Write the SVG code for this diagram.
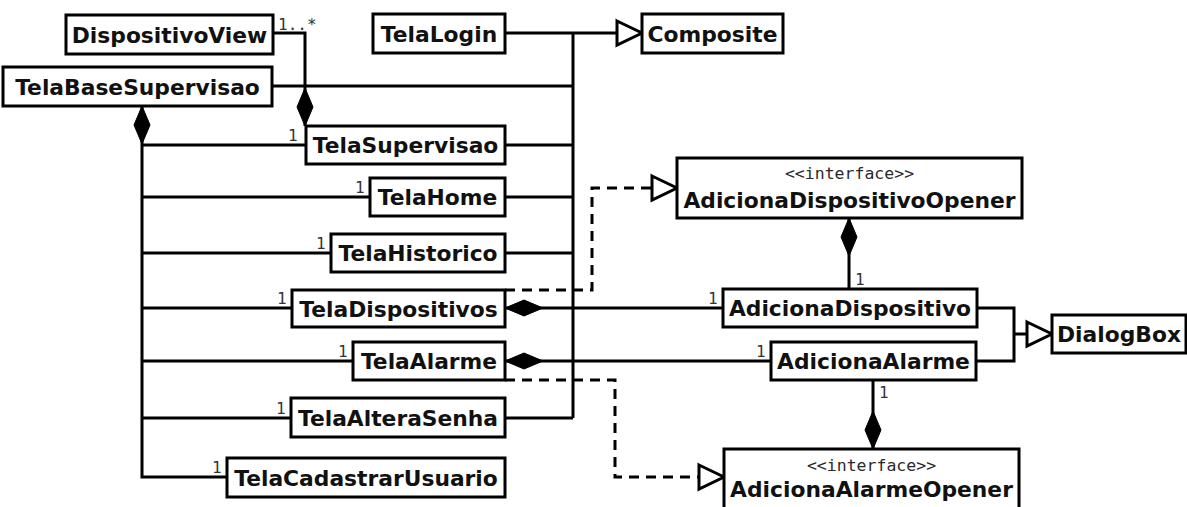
<svg xmlns="http://www.w3.org/2000/svg" width="1187" height="507" viewBox="0 0 1187 507">
  <style>
    .box { fill: #ffffff; stroke: #000000; stroke-width: 3; }
    .name { font-family: "DejaVu Sans", "Liberation Sans", sans-serif; font-weight: bold; font-size: 21.8px; fill: #111111; text-anchor: middle; }
    .stereo { font-family: "DejaVu Sans Mono", "Liberation Mono", monospace; font-size: 16.5px; fill: #2a2a2a; text-anchor: middle; }
    .mult { font-family: "DejaVu Sans Mono", "Liberation Mono", monospace; font-size: 16px; fill: #333333; }
    .line { fill: none; stroke: #000000; stroke-width: 3; }
    .dash { fill: none; stroke: #000000; stroke-width: 3; stroke-dasharray: 10 7; }
    .comp { marker-start: url(#diamond); }
    .gen { marker-end: url(#triangle); }
  </style>
  <defs>
    <!-- hollow triangle: generalization / realization head -->
    <marker id="triangle" markerUnits="userSpaceOnUse" markerWidth="30" markerHeight="28" refX="25" refY="12" orient="auto" overflow="visible">
      <path d="M0,0 L25,12 L0,24 Z" fill="#ffffff" stroke="#000000" stroke-width="3" stroke-dasharray="none" stroke-linejoin="miter"/>
    </marker>
    <!-- filled diamond: composition, placed at the whole end -->
    <marker id="diamond" markerUnits="userSpaceOnUse" markerWidth="40" markerHeight="18" refX="0" refY="8" orient="auto" overflow="visible">
      <path d="M0,8 L19,0 L38,8 L19,16 Z" fill="#000000" stroke="#000000" stroke-width="1"/>
    </marker>
  </defs>

  <rect width="1187" height="507" fill="#ffffff"/>

  <g id="connectors">
    <!-- generalizations towards Composite -->
    <path class="line gen" d="M505,33 H642"/>
    <path class="line" d="M573,33 V418"/>
    <path class="line" d="M272,86 H573"/>
    <path class="line" d="M505,145 H573"/>
    <path class="line" d="M505,197 H573"/>
    <path class="line" d="M505,253 H573"/>
    <path class="line" d="M505,418 H573"/>

    <!-- TelaSupervisao owns DispositivoView -->
    <path class="line comp" d="M305,126 V33 H273"/>

    <!-- TelaBaseSupervisao composition tree -->
    <path class="line comp" d="M142,106 V477 H227"/>
    <path class="line" d="M142,145 H306"/>
    <path class="line" d="M142,197 H370"/>
    <path class="line" d="M142,253 H331"/>
    <path class="line" d="M142,308 H292"/>
    <path class="line" d="M142,361 H353"/>
    <path class="line" d="M142,418 H291"/>

    <!-- screens owning dialogs -->
    <path class="line comp" d="M505,308 H723"/>
    <path class="line comp" d="M505,361 H771"/>

    <!-- dialogs owned by opener interfaces -->
    <path class="line comp" d="M849,218 V289"/>
    <path class="line comp" d="M873,449 V380"/>

    <!-- dialogs generalize DialogBox -->
    <path class="line" d="M977,308 H1014 V361 H976"/>
    <path class="line gen" d="M1014,334 H1052"/>

    <!-- interface realizations -->
    <path class="dash gen" d="M505,290 H592 V188 H677"/>
    <path class="dash gen" d="M505,380 H615 V477 H724"/>

    <!-- multiplicities -->
    <text class="mult" x="278" y="30">1..*</text>
    <text class="mult" x="288" y="141">1</text>
    <text class="mult" x="355" y="193">1</text>
    <text class="mult" x="316" y="249">1</text>
    <text class="mult" x="277" y="304">1</text>
    <text class="mult" x="338" y="357">1</text>
    <text class="mult" x="276" y="414">1</text>
    <text class="mult" x="212" y="473">1</text>
    <text class="mult" x="708" y="304">1</text>
    <text class="mult" x="756" y="357">1</text>
    <text class="mult" x="855" y="285">1</text>
    <text class="mult" x="879" y="398">1</text>
  </g>

  <g id="DispositivoView">
    <rect class="box" x="66" y="15" width="207" height="39"/>
    <text class="name" x="169.5" y="42.5">DispositivoView</text>
  </g>
  <g id="TelaBaseSupervisao">
    <rect class="box" x="3" y="67" width="269" height="39"/>
    <text class="name" x="137.5" y="94.5">TelaBaseSupervisao</text>
  </g>
  <g id="TelaLogin">
    <rect class="box" x="373" y="14" width="132" height="39"/>
    <text class="name" x="439" y="41.5">TelaLogin</text>
  </g>
  <g id="Composite">
    <rect class="box" x="642" y="14" width="141" height="39"/>
    <text class="name" x="712.5" y="41.5">Composite</text>
  </g>
  <g id="TelaSupervisao">
    <rect class="box" x="306" y="126" width="199" height="38"/>
    <text class="name" x="405.5" y="153">TelaSupervisao</text>
  </g>
  <g id="TelaHome">
    <rect class="box" x="370" y="178" width="135" height="38"/>
    <text class="name" x="437.5" y="205">TelaHome</text>
  </g>
  <g id="TelaHistorico">
    <rect class="box" x="331" y="234" width="174" height="38"/>
    <text class="name" x="418" y="261">TelaHistorico</text>
  </g>
  <g id="TelaDispositivos">
    <rect class="box" x="292" y="290" width="213" height="37"/>
    <text class="name" x="398.5" y="316.5">TelaDispositivos</text>
  </g>
  <g id="TelaAlarme">
    <rect class="box" x="353" y="342" width="152" height="38"/>
    <text class="name" x="429" y="369">TelaAlarme</text>
  </g>
  <g id="TelaAlteraSenha">
    <rect class="box" x="291" y="398" width="214" height="39"/>
    <text class="name" x="398" y="425.5">TelaAlteraSenha</text>
  </g>
  <g id="TelaCadastrarUsuario">
    <rect class="box" x="227" y="458" width="278" height="39"/>
    <text class="name" x="366" y="485.5">TelaCadastrarUsuario</text>
  </g>
  <g id="AdicionaDispositivoOpener">
    <rect class="box" x="677" y="158" width="345" height="60"/>
    <text class="stereo" x="849.5" y="179">&lt;&lt;interface&gt;&gt;</text>
    <text class="name" x="849.5" y="208">AdicionaDispositivoOpener</text>
  </g>
  <g id="AdicionaDispositivo">
    <rect class="box" x="723" y="289" width="254" height="38"/>
    <text class="name" x="850" y="316">AdicionaDispositivo</text>
  </g>
  <g id="AdicionaAlarme">
    <rect class="box" x="771" y="342" width="205" height="38"/>
    <text class="name" x="873.5" y="369">AdicionaAlarme</text>
  </g>
  <g id="DialogBox">
    <rect class="box" x="1052" y="315" width="134" height="38"/>
    <text class="name" x="1119" y="342">DialogBox</text>
  </g>
  <g id="AdicionaAlarmeOpener">
    <rect class="box" x="724" y="449" width="295" height="62"/>
    <text class="stereo" x="871.5" y="471">&lt;&lt;interface&gt;&gt;</text>
    <text class="name" x="871.5" y="497">AdicionaAlarmeOpener</text>
  </g>
</svg>
